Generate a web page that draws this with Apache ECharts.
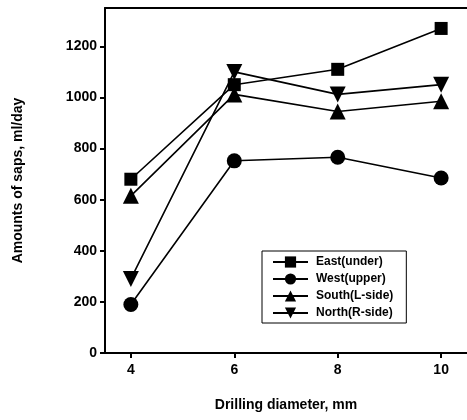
<!DOCTYPE html>
<html>
<head>
<meta charset="utf-8">
<script src="https://cdn.jsdelivr.net/npm/echarts@6/dist/echarts.min.js"></script>
<style>
  html, body { margin: 0; padding: 0; background: #fff; }
  #main { width: 467px; height: 420px; }
</style>
</head>
<body>
<div id="main"></div>
<script>
// drilling diameter (mm)
var diameters = [4, 6, 8, 10];
// amounts of saps, ml/day
var eastUnder = [680, 1050, 1110, 1270];
var westUpper = [190, 752, 766, 685];
var southLSide = [615, 1012, 945, 985];
var northRSide = [290, 1100, 1012, 1050];
var yTicks = [0, 200, 400, 600, 800, 1000, 1200];

var font = "'Liberation Sans', Arial, sans-serif";

function pairs(vals) {
    return vals.map(function (v, i) { return [diameters[i], v]; });
}

function makeSeries(name, vals, symbol, size) {
    return {
        name: name,
        type: 'line',
        data: pairs(vals),
        symbol: symbol,
        symbolSize: size,
        showSymbol: true,
        itemStyle: { color: '#000' },
        lineStyle: { color: '#000', width: 1.6 },
        emphasis: { disabled: true },
        z: 3
    };
}

var chart = echarts.init(document.getElementById('main'));
var option = {
    animation: false,
    backgroundColor: '#fff',
    grid: { left: 105, right: 0, top: 8, bottom: 67, containLabel: false },
    legend: {
        orient: 'vertical',
        left: 262,
        top: 251,
        itemWidth: 35,
        itemHeight: 14,
        itemGap: 5,
        padding: [5, 13, 4, 10],
        borderColor: '#000',
        borderWidth: 1,
        textStyle: { fontFamily: font, fontWeight: 'bold', fontSize: 12, color: '#000', padding: [0, 0, 0, 3] },
        data: ['East(under)', 'West(upper)', 'South(L-side)', 'North(R-side)']
    },
    xAxis: [{
        type: 'value',
        min: 3.5,
        max: 10.5,
        name: 'Drilling diameter, mm',
        nameLocation: 'middle',
        nameGap: 45,
        nameTextStyle: { fontFamily: font, fontWeight: 'bold', fontSize: 14, color: '#000' },
        axisLine: { onZero: false, lineStyle: { color: '#000', width: 2 } },
        axisTick: { show: true, length: 5, lineStyle: { color: '#000', width: 2 }, customValues: diameters },
        axisLabel: { fontFamily: font, fontWeight: 'bold', fontSize: 14, color: '#000', margin: 10, customValues: diameters },
        splitLine: { show: false }
    }, {
        // top frame line
        type: 'value',
        position: 'top',
        min: 3.5,
        max: 10.5,
        axisLine: { show: true, onZero: false, lineStyle: { color: '#000', width: 2 } },
        axisTick: { show: false },
        axisLabel: { show: false },
        splitLine: { show: false }
    }],
    yAxis: {
        type: 'value',
        min: 0,
        max: 1350,
        name: 'Amounts of saps, ml/day',
        nameLocation: 'middle',
        nameGap: 80,
        nameTextStyle: { fontFamily: font, fontWeight: 'bold', fontSize: 14, color: '#000' },
        axisLine: { show: true, lineStyle: { color: '#000', width: 2 } },
        axisTick: { show: true, length: 5, lineStyle: { color: '#000', width: 2 }, customValues: yTicks },
        axisLabel: {
            fontFamily: font, fontWeight: 'bold', fontSize: 14, color: '#000', margin: 8,
            customValues: yTicks,
            formatter: function (v) { return String(v); }
        },
        splitLine: { show: false }
    },
    series: [
        makeSeries('East(under)', eastUnder, 'rect', 13),
        makeSeries('West(upper)', westUpper, 'circle', 15),
        makeSeries('South(L-side)', southLSide, 'triangle', 16),
        makeSeries('North(R-side)', northRSide, 'path://M0,0 L2,0 L1,1.8 Z', 16)
    ]
};
chart.setOption(option);
</script>
</body>
</html>
